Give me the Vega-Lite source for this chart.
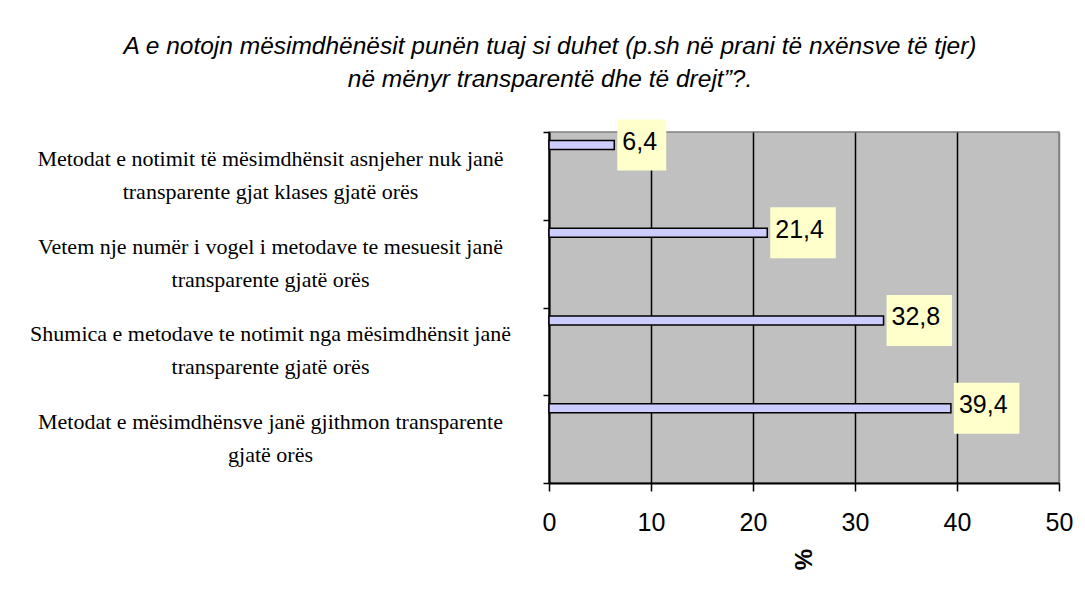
{
  "$schema": "https://vega.github.io/schema/vega-lite/v6.json",
  "autosize": "none",
  "width": 510,
  "height": 351,
  "padding": {"left": 549, "top": 132, "right": 26, "bottom": 108},
  "background": "white",
  "title": {
    "text": ["A e notojn mësimdhënësit punën tuaj si duhet (p.sh në prani të nxënsve të tjer)", "në mënyr transparentë dhe të drejt\u201d?."],
    "font": "Liberation Sans",
    "fontSize": 24.5,
    "fontStyle": "italic",
    "fontWeight": "normal",
    "color": "black",
    "anchor": "middle",
    "frame": "group",
    "dx": -254,
    "offset": 27,
    "lineHeight": 33
  },
  "config": {
    "locale": {"number": {"decimal": ",", "thousands": ".", "grouping": [3], "currency": ["", ""]}},
    "view": {"fill": "#C0C0C0", "stroke": "#808080", "strokeWidth": 1.5}
  },
  "data": {
    "values": [
      {"cat": "Metodat e notimit të mësimdhënsit asnjeher nuk janë|transparente gjat klases gjatë orës", "v": 6.4},
      {"cat": "Vetem nje numër i vogel i metodave te mesuesit janë|transparente gjatë orës", "v": 21.4},
      {"cat": "Shumica e metodave te notimit nga mësimdhënsit janë|transparente gjatë orës", "v": 32.8},
      {"cat": "Metodat e mësimdhënsve janë gjithmon transparente|gjatë orës", "v": 39.4}
    ]
  },
  "encoding": {
    "x": {
      "field": "v", "type": "quantitative",
      "scale": {"domain": [0, 50], "nice": false},
      "axis": {
        "title": "%",
        "titleFont": "Liberation Sans",
        "titleFontSize": 24,
        "titleFontWeight": "bold",
        "titleColor": "black",
        "titleAngle": 270,
        "titleBaseline": "middle",
        "titlePadding": 24,
        "values": [0, 10, 20, 30, 40, 50],
        "labelFont": "Liberation Sans",
        "labelFontSize": 25,
        "labelColor": "black",
        "labelPadding": 19,
        "labelFlush": false,
        "tickSize": 8,
        "tickColor": "black",
        "tickWidth": 1.5,
        "domainColor": "black",
        "domainWidth": 2,
        "grid": true,
        "gridColor": {"condition": {"test": "datum.value == 50", "value": "#808080"}, "value": "black"},
        "gridWidth": 1.5,
        "gridOpacity": 1
      }
    }
  },
  "resolve": {"axis": {"y": "independent"}},
  "layer": [
    {
      "mark": {"type": "bar", "size": 9, "yOffset": -31, "fill": "#CCCCFF", "stroke": "black", "strokeWidth": 1.5},
      "encoding": {
        "y": {
          "field": "cat", "type": "nominal", "sort": null,
          "scale": {"paddingInner": 0, "paddingOuter": 0},
          "axis": {
            "orient": "left",
            "title": null,
            "labels": false,
            "tickBand": "extent",
            "tickSize": 6,
            "tickColor": "black",
            "tickWidth": 1.5,
            "domainColor": "black",
            "domainWidth": 2,
            "grid": false
          }
        }
      }
    },
    {
      "mark": {"type": "point", "filled": true, "fill": "#FFFFCC", "opacity": 1, "strokeWidth": 0, "size": 2601, "xOffset": 3, "yOffset": -31},
      "encoding": {
        "y": {
          "field": "cat", "type": "nominal", "sort": null,
          "axis": {
            "orient": "left",
            "title": null,
            "domain": false,
            "ticks": false,
            "grid": false,
            "labelExpr": "split(datum.value, '|')",
            "labelFont": "Liberation Serif",
            "labelFontSize": 22,
            "labelColor": "black",
            "labelAlign": "center",
            "labelPadding": 279,
            "labelOffset": -17,
            "labelLimit": 700,
            "labelLineHeight": 33
          }
        },
        "shape": {"condition": {"test": "datum.v < 10", "value": "M0,-1H1.92V1H0Z"}, "value": "M0,-1H2.57V1H0Z"}
      }
    },
    {
      "mark": {"type": "text", "align": "left", "baseline": "alphabetic", "dx": 8, "dy": 5, "yOffset": -31, "font": "Liberation Sans", "fontSize": 25, "color": "black"},
      "encoding": {
        "y": {"field": "cat", "type": "nominal", "sort": null, "axis": null},
        "text": {"field": "v", "type": "quantitative", "format": ".1f"}
      }
    }
  ]
}
